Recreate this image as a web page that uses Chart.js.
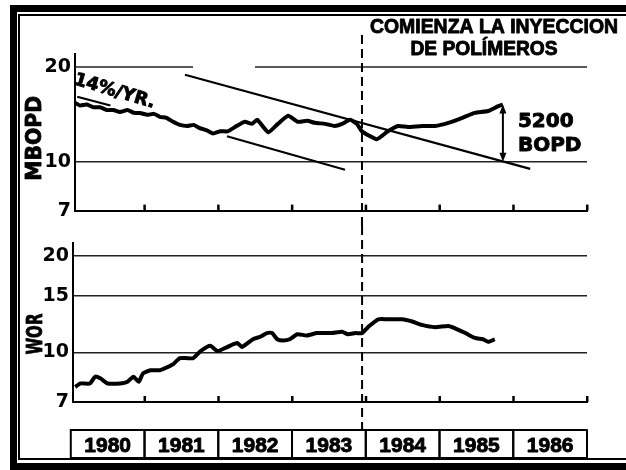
<!DOCTYPE html>
<html>
<head>
<meta charset="utf-8">
<script src="https://cdn.jsdelivr.net/npm/chart.js@4.4.1/dist/chart.umd.min.js"></script>
<style>
  html, body { margin: 0; padding: 0; background: #fff; width: 626px; height: 470px; overflow: hidden; }
  .frame-outer { position: absolute; left: 10px; top: 5px; width: 800px; height: 465px; border: 7px solid #000; box-sizing: border-box; }
  .frame-inner { position: absolute; left: 18px; top: 14px; width: 800px; height: 446px; border: 2px solid #000; box-sizing: border-box; }
  canvas { position: absolute; left: 0; }
  #prodChart { top: 0; }
  #worChart { top: 226px; }
</style>
</head>
<body>
<div class="frame-outer"></div>
<div class="frame-inner"></div>
<canvas id="prodChart" width="626" height="226"></canvas>
<canvas id="worChart" width="626" height="244"></canvas>
<script>
/* ---------- data ---------- */
const years = [1980, 1981, 1982, 1983, 1984, 1985, 1986];

const mbopdYears = [1980.06, 1980.13, 1980.22, 1980.31, 1980.40, 1980.49, 1980.58, 1980.67, 1980.77, 1980.86,
  1980.94, 1981.04, 1981.13, 1981.21, 1981.30, 1981.39, 1981.48, 1981.58, 1981.67, 1981.75,
  1981.84, 1981.93, 1982.03, 1982.13, 1982.23, 1982.36, 1982.46, 1982.53, 1982.68, 1982.81, 1982.95,
  1983.08, 1983.21, 1983.31, 1983.45, 1983.58, 1983.68, 1983.79, 1983.88, 1983.95, 1984.15,
  1984.30, 1984.44, 1984.57, 1984.76, 1984.94, 1985.12, 1985.31, 1985.48, 1985.66, 1985.79, 1985.86];
const mbopdValues = [15.4, 15.1, 15.2, 14.9, 14.9, 14.6, 14.6, 14.4, 14.6, 14.3,
  14.3, 14.1, 14.2, 13.9, 13.8, 13.4, 13.1, 13.0, 13.1, 12.8,
  12.6, 12.3, 12.5, 12.5, 12.9, 13.4, 13.2, 13.6, 12.4, 13.2, 14.0,
  13.4, 13.5, 13.3, 13.2, 13.0, 13.2, 13.6, 13.2, 12.5, 11.8,
  12.5, 13.0, 12.9, 13.0, 13.0, 13.3, 13.8, 14.3, 14.5, 15.0, 15.2];

const worYears = [1980.06, 1980.13, 1980.26, 1980.33, 1980.40, 1980.50, 1980.67, 1980.77, 1980.85, 1980.92,
  1980.98, 1981.08, 1981.21, 1981.31, 1981.39, 1981.48, 1981.58, 1981.66, 1981.76, 1981.89,
  1981.99, 1982.12, 1982.26, 1982.32, 1982.47, 1982.57, 1982.66, 1982.73, 1982.80, 1982.88,
  1982.97, 1983.07, 1983.20, 1983.34, 1983.54, 1983.68, 1983.76, 1983.86, 1983.95, 1984.03,
  1984.17, 1984.30, 1984.49, 1984.63, 1984.76, 1984.94, 1985.12, 1985.21, 1985.35, 1985.48,
  1985.59, 1985.66, 1985.75];
const worValues = [7.8, 8.0, 8.0, 8.4, 8.3, 8.0, 8.0, 8.1, 8.4, 8.1,
  8.6, 8.8, 8.8, 9.0, 9.2, 9.6, 9.6, 9.6, 10.1, 10.5,
  10.1, 10.4, 10.7, 10.4, 11.0, 11.2, 11.5, 11.5, 11.0, 10.9,
  11.0, 11.4, 11.3, 11.5, 11.5, 11.6, 11.4, 11.5, 11.5, 12.0,
  12.7, 12.7, 12.7, 12.5, 12.2, 12.0, 12.1, 11.9, 11.5, 11.1,
  11.0, 10.8, 11.0];

// 14 %/yr decline trends [year, MBOPD]
const declineA = [[1980.09, 16.1], [1980.54, 15.1]];
const declineB = [[1981.55, 18.9], [1986.23, 9.5]];
const declineC = [[1982.12, 12.06], [1983.72, 9.44]];

// the 20 MBOPD grid line is broken where the trend starts
const grid20Segments = [[1980.06, 1981.66], [1982.50, 1987]];

const prodTicks = [7, 10, 20];
const worTicks = [7, 10, 15, 20];

const injectionYear = 1983.95;
const trendAtEnd = 10.0;   // trend value under the last production point

/* ---------- helpers ---------- */
const pts = (xs, ys) => xs.map((x, i) => ({ x: x, y: ys[i] }));
const pairPts = arr => arr.map(p => ({ x: p[0], y: p[1] }));

function lineSet(data, width, color) {
  return { data: data, borderColor: color || '#000', borderWidth: width, pointRadius: 0, tension: 0, fill: false };
}

// heavy lettering: fill plus a thin outline
function heavyText(ctx, text, x, y, maxWidth) {
  ctx.lineWidth = 0.9;
  ctx.lineJoin = 'round';
  if (maxWidth) {
    ctx.fillText(text, x, y, maxWidth);
    ctx.strokeText(text, x, y, maxWidth);
  } else {
    ctx.fillText(text, x, y);
    ctx.strokeText(text, x, y);
  }
}

function axisTicks(ctx, x, a) {
  ctx.fillStyle = '#000';
  for (let i = 1; i < years.length; i++) {
    const px = x.getPixelForValue(years[i]);
    ctx.fillRect(px - 1, a.bottom - 6, 2.5, 6);
  }
  ctx.fillRect(a.right - 1, a.bottom - 6, 2.5, 6);
}

function dashedLine(ctx, px, y0, y1) {
  ctx.save();
  ctx.strokeStyle = '#000';
  ctx.lineWidth = 2;
  ctx.setLineDash([9, 5]);
  ctx.beginPath();
  ctx.moveTo(px, y0);
  ctx.lineTo(px, y1);
  ctx.stroke();
  ctx.restore();
}

function arrowHead(ctx, px, py, dir) {
  ctx.beginPath();
  ctx.moveTo(px, py);
  ctx.lineTo(px - 3.5, py + dir * 9);
  ctx.lineTo(px + 3.5, py + dir * 9);
  ctx.closePath();
  ctx.fill();
}

/* ---------- annotations ---------- */
function drawProd(chart) {
  const ctx = chart.ctx, x = chart.scales.x, y = chart.scales.y, a = chart.chartArea;
  ctx.save();
  axisTicks(ctx, x, a);
  dashedLine(ctx, x.getPixelForValue(injectionYear), 35, chart.height);

  // gain arrow between trend and last point
  const endYear = mbopdYears[mbopdYears.length - 1];
  const endValue = mbopdValues[mbopdValues.length - 1];
  const ax = x.getPixelForValue(endYear);
  const yTop = y.getPixelForValue(endValue);
  const yBot = y.getPixelForValue(trendAtEnd);
  ctx.strokeStyle = '#000';
  ctx.fillStyle = '#000';
  ctx.lineWidth = 2;
  ctx.beginPath();
  ctx.moveTo(ax, yTop + 4);
  ctx.lineTo(ax, yBot - 4);
  ctx.stroke();
  arrowHead(ctx, ax, yTop, 1);
  arrowHead(ctx, ax, yBot, -1);

  const gain = Math.round((endValue - trendAtEnd) * 1000);
  const mid = (yTop + yBot) / 2;
  ctx.font = 'bold 20px "DejaVu Sans"';
  ctx.textAlign = 'left';
  ctx.textBaseline = 'alphabetic';
  heavyText(ctx, String(gain), ax + 15, mid - 6);
  heavyText(ctx, 'BOPD', ax + 15, mid + 18);

  // header
  ctx.font = 'bold 20px "Liberation Sans"';
  ctx.textAlign = 'center';
  heavyText(ctx, 'COMIENZA LA INYECCION', 494, 33, 248);
  heavyText(ctx, 'DE POLÍMEROS', 484, 55, 147);

  // decline rate label
  ctx.save();
  ctx.translate(73, 84);
  ctx.rotate(16.6 * Math.PI / 180);
  ctx.textAlign = 'left';
  ctx.font = 'bold 18px "DejaVu Sans"';
  heavyText(ctx, '14%/YR.', 0, 0);
  ctx.restore();

  // axis title
  ctx.save();
  ctx.translate(35, (a.top + a.bottom) / 2 + 6);
  ctx.rotate(-Math.PI / 2);
  ctx.textAlign = 'center';
  ctx.textBaseline = 'middle';
  ctx.font = 'bold 22px "DejaVu Sans"';
  heavyText(ctx, 'MBOPD', 0, 0, 85);
  ctx.restore();
  ctx.restore();
}

function drawWor(chart) {
  const ctx = chart.ctx, x = chart.scales.x, a = chart.chartArea;
  const boxTop = 204, boxBottom = 232;
  ctx.save();
  axisTicks(ctx, x, a);
  dashedLine(ctx, x.getPixelForValue(injectionYear), 0, boxTop);

  // year boxes
  ctx.strokeStyle = '#000';
  ctx.fillStyle = '#000';
  ctx.font = 'bold 21px "Liberation Sans"';
  ctx.textAlign = 'center';
  ctx.textBaseline = 'alphabetic';
  years.forEach(yr => {
    const x0 = x.getPixelForValue(yr);
    const x1 = x.getPixelForValue(yr + 1);
    ctx.lineWidth = 2;
    ctx.strokeRect(x0, boxTop, x1 - x0, boxBottom - boxTop);
    heavyText(ctx, String(yr), (x0 + x1) / 2, 226);
  });

  ctx.save();
  ctx.translate(36, 108);
  ctx.rotate(-Math.PI / 2);
  ctx.textAlign = 'center';
  ctx.textBaseline = 'middle';
  ctx.font = 'bold 22px "DejaVu Sans"';
  heavyText(ctx, 'WOR', 0, 0, 41);
  ctx.restore();
  ctx.restore();
}

/* ---------- panels ---------- */
function panel(canvas, cfg) {
  return new Chart(canvas, {
    type: 'line',
    data: { datasets: cfg.datasets },
    options: {
      responsive: false,
      animation: false,
      devicePixelRatio: 1,
      layout: { autoPadding: false, padding: { left: 0, right: 626 - 587, top: cfg.top, bottom: cfg.bottom } },
      plugins: { legend: { display: false }, tooltip: { enabled: false } },
      scales: {
        x: {
          type: 'linear',
          min: cfg.xMin,
          max: 1987,
          ticks: { display: false },
          grid: { display: false },
          border: { display: true, width: 2, color: '#000' },
          afterFit: s => { s.height = 12; }
        },
        y: {
          type: 'logarithmic',
          min: 7,
          max: 22,
          afterBuildTicks: s => { s.ticks = cfg.ticks.map(v => ({ value: v })); },
          afterFit: s => { s.width = cfg.left; },
          ticks: {
            autoSkip: false,
            padding: 4,
            color: '#000',
            font: { family: 'DejaVu Sans', weight: 'bold', size: 19 },
            callback: v => String(v)
          },
          grid: {
            drawTicks: false,
            lineWidth: 1.5,
            color: c => (c.tick && cfg.grid.includes(c.tick.value)) ? '#222' : 'rgba(0,0,0,0)'
          },
          border: { display: true, width: 2, color: '#000' }
        }
      }
    },
    plugins: [{ id: 'annotations', afterDatasetsDraw: cfg.draw }]
  });
}

panel(document.getElementById('prodChart'), {
  left: 75, xMin: 1980.06, top: 54, bottom: 1,
  ticks: prodTicks, grid: [10],
  datasets: [
    lineSet(pairPts([[grid20Segments[0][0], 20], [grid20Segments[0][1], 20]]), 1.5, '#222'),
    lineSet(pairPts([[grid20Segments[1][0], 20], [grid20Segments[1][1], 20]]), 1.5, '#222'),
    lineSet(pairPts(declineA), 2.2),
    lineSet(pairPts(declineB), 2.2),
    lineSet(pairPts(declineC), 2.2),
    Object.assign(lineSet(pts(mbopdYears, mbopdValues), 4), { tension: 0.15 })
  ],
  draw: drawProd
});

panel(document.getElementById('worChart'), {
  left: 73, xMin: 1980.03, top: 17, bottom: 56,
  ticks: worTicks, grid: [10, 15, 20],
  datasets: [
    Object.assign(lineSet(pts(worYears, worValues), 4), { tension: 0.2 })
  ],
  draw: drawWor
});
</script>
</body>
</html>
